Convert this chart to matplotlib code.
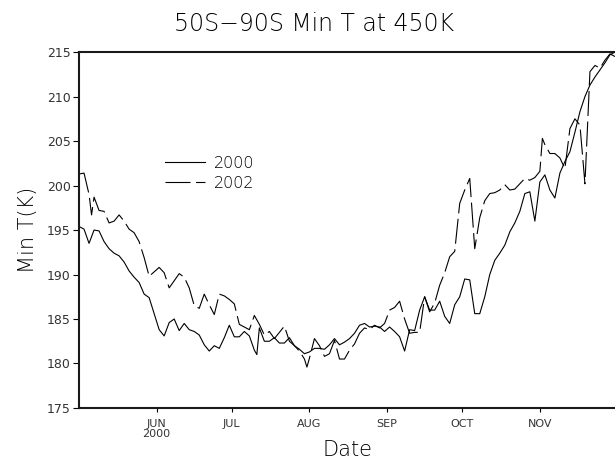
import datetime as dt
import matplotlib
matplotlib.use("Agg")
import matplotlib.pyplot as plt

# daily minimum temperature, 50S-90S at 450K, days counted from 1 May
days_2000 = [0, 2, 4, 6, 8, 10, 12, 14, 16, 18, 20, 22, 24, 26, 28, 30,
             32, 34, 36, 38, 40, 42, 44, 46, 48, 50, 52, 54, 56, 58, 60,
             62, 64, 66, 68, 70, 71, 72, 74, 76, 78, 80, 82, 84, 86, 88,
             90, 92, 94, 96, 98, 100, 102, 104, 106, 108, 110, 112, 114,
             116, 118, 120, 122, 124, 126, 128, 130, 132, 134, 136, 138,
             140, 142, 144, 146, 148, 150, 152, 154, 156, 158, 160, 162,
             164, 166, 168, 170, 172, 174, 176, 178, 180, 182, 184, 186,
             188, 190, 192, 194, 196, 198, 200, 202, 204, 206, 208, 210,
             212, 214]
t_2000 = [195.4, 195.1, 193.5, 195.0, 194.9, 193.7, 192.9, 192.4, 192.1,
          191.4, 190.4, 189.7, 189.1, 187.8, 187.4, 185.6, 183.8, 183.1,
          184.6, 185.0, 183.7, 184.5, 183.8, 183.6, 183.2, 182.1, 181.4,
          182.0, 181.7, 182.9, 184.3, 183.0, 183.0, 183.6, 183.1, 181.5,
          181.0, 184.0, 182.5, 182.5, 182.9, 182.3, 182.3, 182.9, 182.0,
          181.6, 181.1, 181.3, 181.7, 181.7, 181.6, 182.1, 182.8, 182.1,
          182.4, 182.8, 183.4, 184.3, 184.5, 184.1, 184.2, 184.1, 183.6,
          184.1, 183.6, 183.0, 181.4, 183.8, 183.7, 186.0, 187.5, 186.0,
          186.0, 187.0, 185.3, 184.5, 186.6, 187.5, 189.5, 189.4, 185.6,
          185.6, 187.5, 190.0, 191.6, 192.4, 193.3, 194.8, 195.8, 197.1,
          199.1, 199.3, 196.0, 200.4, 201.2, 199.5, 198.6, 201.4, 202.7,
          203.8, 206.0, 208.3, 210.0, 211.3, 212.2, 213.0, 213.8, 214.7,
          215.0]

days_2002 = [0, 2, 4, 5, 6, 8, 10, 12, 14, 16, 18, 20, 22, 24, 26, 28, 30,
             32, 34, 36, 38, 40, 42, 44, 46, 48, 50, 52, 54, 56, 58, 60,
             62, 64, 66, 68, 70, 72, 74, 76, 78, 80, 82, 84, 86, 88, 90,
             91, 92, 94, 96, 98, 100, 102, 104, 106, 108, 110, 112, 114,
             116, 118, 120, 122, 124, 126, 128, 130, 132, 134, 136, 138,
             140, 142, 144, 146, 148, 150, 152, 154, 156, 158, 160, 162,
             164, 166, 168, 170, 172, 174, 176, 178, 180, 182, 184, 185,
             186, 188, 190, 192, 194, 196, 198, 200, 202, 204, 206, 208,
             210, 212, 214]
t_2002 = [201.3, 201.4, 199.0, 196.7, 198.7, 197.2, 197.1, 195.8, 196.0,
          196.7, 196.0, 195.1, 194.7, 193.7, 191.9, 189.8, 190.3, 190.8,
          190.2, 188.5, 189.3, 190.1, 189.7, 188.5, 186.5, 186.2, 187.8,
          186.6, 185.5, 187.8, 187.6, 187.2, 186.7, 184.4, 184.1, 183.8,
          185.4, 184.4, 183.2, 183.6, 182.8, 183.5, 184.2, 182.5, 182.0,
          181.4, 180.5, 179.6, 180.6, 182.8, 182.0, 180.8, 181.1, 182.6,
          180.5, 180.5, 181.5, 182.2, 183.4, 184.0, 183.8, 184.3, 184.0,
          184.5, 186.0, 186.3, 187.0, 185.0, 183.4, 183.5, 183.5, 187.5,
          185.8, 186.8, 188.8, 190.2, 192.0, 192.6, 198.0, 199.5, 200.8,
          192.9, 196.4, 198.3, 199.1, 199.2, 199.5, 200.1, 199.5, 199.6,
          200.2, 200.8, 200.6, 200.9, 201.6, 205.3, 204.6, 203.6, 203.6,
          203.1, 201.9, 206.4, 207.5, 206.8, 200.2, 212.8, 213.5, 213.2,
          214.1, 214.8, 214.5]

month_starts = [dt.date(2002, m, 1) for m in range(6, 12)]
month_labels = ["JUN\n2000", "JUL", "AUG", "SEP", "OCT", "NOV"]
y_ticks = [175, 180, 185, 190, 195, 200, 205, 210, 215]

start = dt.date(2002, 5, 1)
x2000 = [start + dt.timedelta(days=d) for d in days_2000]
x2002 = [start + dt.timedelta(days=d) for d in days_2002]

plt.rcParams["font.family"] = "DejaVu Sans"
plt.rcParams["font.weight"] = "light"
plt.rcParams["lines.scale_dashes"] = False
ink = "black"

fig = plt.figure(figsize=(6.15, 4.61), dpi=100)
ax = fig.add_axes([0.1285, 0.115, 0.8715, 0.772])

ax.plot(x2000, t_2000, color=ink, lw=0.8, label="2000")
ax.plot(x2002, t_2002, color=ink, lw=0.8, linestyle=(0, (18, 4)),
        label="2002")

ax.set_xlim(start, dt.date(2002, 12, 1))
ax.set_ylim(175, 215)
ax.set_yticks(y_ticks)
ax.set_xticks(month_starts)
ax.set_xticklabels(month_labels, linespacing=1.0)

ax.tick_params(axis="y", direction="out", length=4, width=0.8,
               labelsize=9, colors=ink, pad=2)
ax.tick_params(axis="x", direction="out", length=3, width=0.8,
               labelsize=8, colors=ink, pad=5)
for lbl in ax.get_xticklabels() + ax.get_yticklabels():
    lbl.set_fontweight("normal")
    lbl.set_color("#333333")

for side in ["left", "bottom", "top"]:
    ax.spines[side].set_linewidth(1.5)
    ax.spines[side].set_color("#1a1a1a")
ax.spines["right"].set_visible(False)

ax.set_xlabel("Date", fontsize=15, color=ink, fontweight="light",
              labelpad=1)
ax.set_ylabel("Min T(K)", fontsize=15, color=ink, fontweight="light",
              labelpad=6)
fig.text(0.51, 0.948, "50S\u221290S Min T at 450K", fontsize=17,
         color=ink, ha="center", va="center")

ax.legend(loc="upper left", bbox_to_anchor=(0.16, 0.708), frameon=False,
          fontsize=11.5, handlelength=2.5, handletextpad=0.6,
          labelspacing=0.3, borderpad=0, borderaxespad=0)

fig.savefig("out.png", dpi=100)
